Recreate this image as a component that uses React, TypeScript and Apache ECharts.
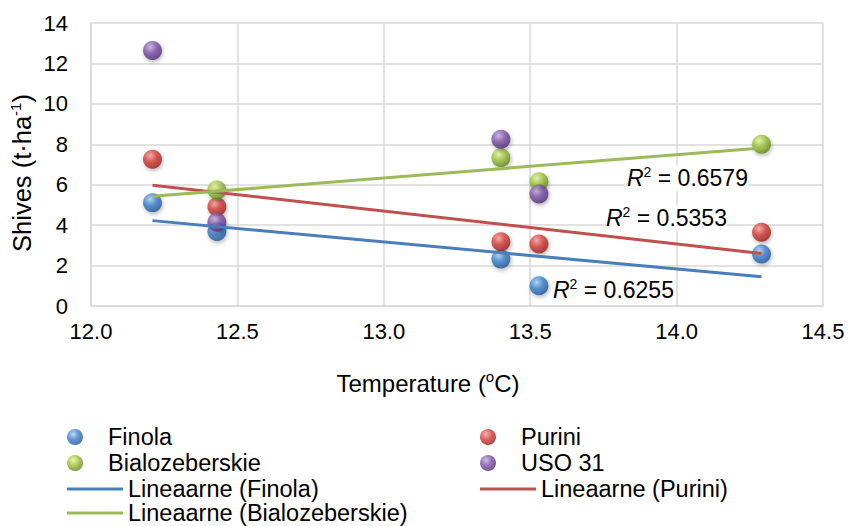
import React, { useEffect, useRef } from "react";
import * as echarts from "echarts";

const temps: number[] = [12.21, 12.43, 13.4, 13.53, 14.29];
const finola: (number | null)[] = [5.11, 3.68, 2.33, 1.0, 2.57];
const purini: (number | null)[] = [7.26, 4.91, 3.18, 3.07, 3.65];
const bialo: (number | null)[] = [null, 5.74, 7.34, 6.15, 8.0];
const uso: (number | null)[] = [12.64, 4.14, 8.25, 5.54, null];
const r2Finola = "0.6255";
const r2Purini = "0.5353";
const r2Bialo = "0.6579";
const xTitle = "Temperature ({sup|o}C)";
const yTitle = "Shives (t·ha{sup|-1})";

const FONT = "'Liberation Sans', Arial, sans-serif";

function pairs(vals: (number | null)[]) {
  const out: number[][] = [];
  vals.forEach((v, i) => {
    if (v !== null) out.push([temps[i], v]);
  });
  return out;
}

function trend(vals: (number | null)[]) {
  const p = pairs(vals);
  const n = p.length;
  const mx = p.reduce((s, d) => s + d[0], 0) / n;
  const my = p.reduce((s, d) => s + d[1], 0) / n;
  let sxy = 0,
    sxx = 0;
  p.forEach((d) => {
    sxy += (d[0] - mx) * (d[1] - my);
    sxx += (d[0] - mx) * (d[0] - mx);
  });
  const b = sxy / sxx;
  const a = my - b * mx;
  const x0 = Math.min(...temps);
  const x1 = Math.max(...temps);
  return [
    [x0, a + b * x0],
    [x1, a + b * x1],
  ];
}

function sphere(light: string, base: string, dark: string) {
  return new echarts.graphic.RadialGradient(0.38, 0.32, 0.75, [
    { offset: 0, color: light },
    { offset: 0.45, color: base },
    { offset: 1, color: dark },
  ]);
}

const blueBall = sphere("#a9d2f7", "#3b7fcb", "#1d4d8c");
const redBall = sphere("#f6a39c", "#d53a35", "#8a1c18");
const greenBall = sphere("#e2f59c", "#9cc23b", "#5a7816");
const purpleBall = sphere("#c8aee3", "#7b52a7", "#47296b");

function scatter(name: string, vals: (number | null)[], color: any) {
  return {
    name,
    type: "scatter",
    data: pairs(vals),
    symbolSize: 19,
    z: 3,
    itemStyle: {
      color,
      shadowBlur: 4,
      shadowColor: "rgba(0,0,0,0.35)",
      shadowOffsetY: 2,
      shadowOffsetX: 1,
    },
  };
}

function line(name: string, vals: (number | null)[], color: string) {
  return {
    name,
    type: "line",
    data: trend(vals),
    showSymbol: false,
    symbol: "none",
    z: 5,
    lineStyle: { color, width: 3 },
    itemStyle: { color },
  };
}

const supStyle = { fontSize: 14, fontFamily: FONT, color: "#000", verticalAlign: "top", padding: [0, 0, 11, 0] };

function r2Text(value: string, x: number, y: number) {
  return {
    type: "text",
    x,
    y,
    z: 10,
    style: {
      text: "{i|R}{s|2}{n| = " + value + "}",
      backgroundColor: "#fff",
      verticalAlign: "middle",
      align: "left",
      rich: {
        i: { fontStyle: "italic", fontSize: 23, fontFamily: FONT, color: "#000", lineHeight: 26 },
        s: { ...supStyle, lineHeight: 26 },
        n: { fontSize: 23, fontFamily: FONT, color: "#000", lineHeight: 26 },
      },
    },
  };
}

function titleText(text: string, x: number, y: number, rotation: number, size: number) {
  return {
    type: "text",
    x,
    y,
    rotation,
    z: 10,
    style: {
      text,
      align: "center",
      verticalAlign: "middle",
      fontSize: size,
      fontFamily: FONT,
      fill: "#000",
      rich: {
        sup: { ...supStyle, fontSize: 15, lineHeight: 28 },
      },
    },
  };
}

function legendItem(name: string, left: number, centerY: number, isLine: boolean) {
  return {
    show: true,
    left,
    top: centerY - 12,
    padding: 0,
    itemWidth: 56,
    itemHeight: isLine ? 3 : 16,
    icon: isLine ? "rect" : "circle",
    textStyle: { fontFamily: FONT, fontSize: 23.5, color: "#000", lineHeight: 24 },
    selectedMode: false,
    data: [name],
  };
}

export default function App() {
  const ref = useRef<HTMLDivElement>(null);
  useEffect(() => {
    if (!ref.current) return;
    const chart = echarts.init(ref.current, null, { renderer: "svg" });
    chart.setOption({
      animation: false,
      backgroundColor: "#fff",
      textStyle: { fontFamily: FONT },
      grid: { left: 91, right: 26, top: 23, bottom: 220, containLabel: false },
      xAxis: {
        type: "value",
        min: 12,
        max: 14.5,
        interval: 0.5,
        axisLine: { show: true, lineStyle: { color: "#d9d9d9", width: 1.5 } },
        axisTick: { show: false },
        axisLabel: {
          margin: 14,
          fontFamily: FONT,
          fontSize: 22,
          color: "#000",
          formatter: (v: number) => v.toFixed(1),
        },
        splitLine: { show: true, lineStyle: { color: "#d9d9d9", width: 1.5 } },
      },
      yAxis: {
        type: "value",
        min: 0,
        max: 14,
        interval: 2,
        axisLine: { show: true, lineStyle: { color: "#d9d9d9", width: 1.5 } },
        axisTick: { show: false },
        axisLabel: { margin: 23, fontFamily: FONT, fontSize: 22, color: "#000" },
        splitLine: { show: true, lineStyle: { color: "#d9d9d9", width: 1.5 } },
      },
      legend: [
        legendItem("Finola", 67, 437, false),
        legendItem("Bialozeberskie", 67, 463, false),
        legendItem("Lineaarne (Finola)", 67, 489, true),
        legendItem("Lineaarne (Bialozeberskie)", 67, 513, true),
        legendItem("Purini", 480, 437, false),
        legendItem("USO 31", 480, 463, false),
        legendItem("Lineaarne (Purini)", 480, 489, true),
      ],
      graphic: [
        titleText(xTitle, 428, 383, 0, 24),
        titleText(yTitle, 22, 173, Math.PI / 2, 25.5),
        r2Text(r2Bialo, 627, 178),
        r2Text(r2Purini, 606, 218),
        r2Text(r2Finola, 553, 290),
      ],
      series: [
        scatter("Finola", finola, blueBall),
        scatter("Purini", purini, redBall),
        scatter("Bialozeberskie", bialo, greenBall),
        scatter("USO 31", uso, purpleBall),
        line("Lineaarne (Finola)", finola, "#4a7ebb"),
        line("Lineaarne (Purini)", purini, "#c0504d"),
        line("Lineaarne (Bialozeberskie)", bialo, "#9bbb59"),
      ],
    });
    return () => chart.dispose();
  }, []);
  return <div ref={ref} style={{ width: 849, height: 526, position: "absolute", left: 0, top: 0 }} />;
}
